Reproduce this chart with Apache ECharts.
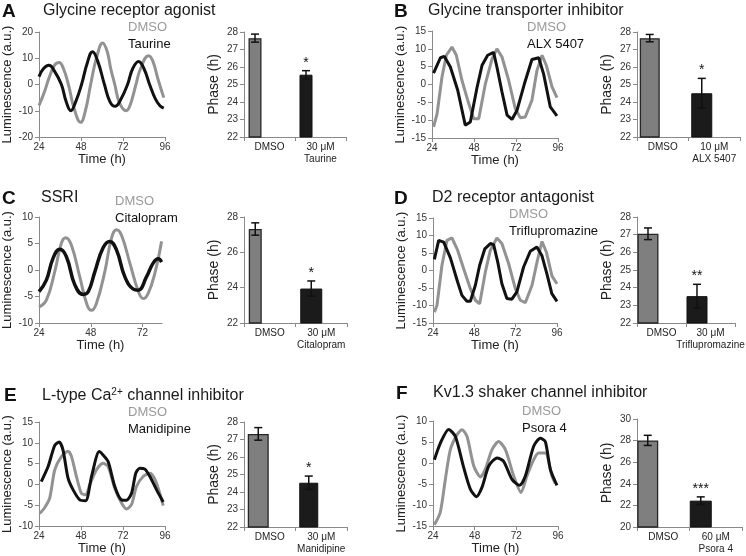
<!DOCTYPE html>
<html><head><meta charset="utf-8">
<script src="https://cdn.jsdelivr.net/npm/echarts@6/dist/echarts.min.js"></script>
<style>html,body{margin:0;padding:0;background:#fff}#c{width:746px;height:556px}</style>
</head><body><div id="c"></div>
<script>
// ---------- DATA ----------
// Panel A: Glycine receptor agonist (time h, luminescence a.u.)
const aDmso = [[24,-8],[27,-3],[30,3],[33,7.5],[35.5,8.4],[38,6],[41,-0.5],[44,-9],[47.8,-14.4],[50.5,-10],[53.5,0],[57,10.5],[60.4,15.8],[63,12.5],[65,6],[67.3,0],[70,-7],[73.8,-10],[76,-8],[79.4,0],[82,6],[86.6,11],[89,9],[92,2],[95.3,-5]];
const aTaurine = [[24,3],[26.5,6],[29.7,7.3],[32.5,5.5],[36.8,0],[39.5,-6.5],[42.2,-10],[45,-6.5],[48.3,0],[51.5,8],[54.6,12.5],[57.5,9],[61.4,0],[64.5,-6.5],[67.5,-8.3],[70.5,-6],[74.6,0],[77.5,6],[80.9,8.8],[84,6],[87.2,0],[90.5,-5.5],[93,-8],[95.3,-9]];
// Panel B: Glycine transporter inhibitor
const bDmso = [[24.9,-11.9],[26.9,-8.2],[29.7,2.1],[32.2,8.2],[35.4,10.5],[37.9,8.2],[41.1,1.2],[44.4,-4.4],[47.8,-9.6],[50.7,-9.6],[54.5,0.2],[58.3,7.2],[61.1,10],[64,7.7],[67.8,1.2],[71.6,-6.8],[74.5,-9.3],[77.3,-9.1],[81.1,-4.4],[84,4],[86.9,8.2],[89.3,5.4],[92.6,-0.7],[95.4,-3.7]];
const bAlx = [[24.9,3.2],[28.8,7.5],[31,7.9],[34.5,4.9],[38.7,-1.6],[43,-11.4],[45.9,-10.5],[49.7,-0.9],[52.6,5.4],[55.8,8.2],[59.2,9],[61.1,4.9],[64,-2.1],[66.9,-8.6],[69.7,-9.8],[72.6,-7.2],[76.8,0.2],[81.1,7],[85,7.5],[87.8,2.9],[91.6,-6.3],[95.4,-8.8]];
// Panel C: SSRI
const cDmso = [[24,-7],[27.4,-5.7],[31.3,-0.3],[34.4,5.1],[36.4,6.1],[39,4.7],[42.9,-1.3],[46.3,-6.6],[48.3,-7.6],[50.6,-6.3],[54.5,-0.3],[57.6,6],[59.9,7.6],[62.2,6.6],[66.1,1.3],[70,-4],[72.3,-5.4],[74.6,-4.4],[77.7,-0.6],[80.8,5.4]];
const cCitalopram = [[24,-4.1],[27.4,-1.9],[30.5,2.2],[33.6,3.9],[36.7,2.5],[40.6,-2.8],[44.4,-4.6],[46.8,-4.1],[49.9,-0.3],[53.7,4.2],[56.8,5.4],[59.9,3.8],[63.8,-1.3],[67.7,-3.6],[70,-3.8],[73.8,-1.3],[76.9,1.3],[79.3,2.1],[80.8,1.5]];
// Panel D: D2 receptor antagonist
const dDmso = [[24.8,-11.9],[26.3,-10],[29.2,1.5],[32.1,8.6],[35,9.3],[38.3,5.8],[41.8,0.5],[45.7,-5.2],[48.6,-8.5],[51.1,-9.5],[54.4,-0.4],[57.3,5.8],[61.1,9.3],[64,7.7],[67.9,2],[71.8,-5.2],[74.7,-8.5],[77.6,-9.2],[81.5,-4.2],[84.4,2.4],[87.3,8.3],[89.8,5.3],[93.1,-1.6],[96,-3.8]];
const dTriflu = [[24.8,3.2],[27.3,8.6],[30.2,8.1],[34.1,3.6],[38.3,-3.3],[40.8,-7.1],[43.7,-8.8],[45.7,-8.8],[48.6,-4.2],[51.1,1.5],[54.1,6.2],[57.3,7.7],[59.2,7.4],[61.6,2.4],[64,-3.8],[66.9,-8],[69.8,-8.2],[72.7,-6.1],[76.6,1],[80.5,5.5],[84.3,6.7],[87.2,4.3],[90.1,-0.9],[93,-6.6],[96,-8.8]];
// Panel E: L-type Ca2+ channel inhibitor
const eDmso = [[24.4,-7],[27.2,-5.6],[30.1,-3.3],[33,3.5],[36.8,6.7],[40.6,8],[42.5,6.8],[45.4,1.9],[48.2,-2.1],[50.7,-2.5],[53,-0.1],[56.8,3.5],[60.6,5.1],[63.5,4.3],[67.3,-0.9],[71.1,-4.4],[74,-5.9],[76.9,-4.8],[79.7,-0.5],[83.5,1.9],[87.4,2.7],[90.8,0.7],[95,-5.1]];
const eManidipine = [[25.3,0.7],[29.2,4.3],[33,9.4],[35.5,10.2],[37.7,8.3],[40.6,1.5],[43.5,-1.3],[47.3,-3.7],[50.7,-3.9],[54,1.9],[58.4,7.9],[60.6,7.1],[63.5,5.5],[67.3,-0.5],[71.1,-3.7],[74,-3.8],[76.9,-2.1],[79.3,2.7],[81.6,3.9],[84.5,3.7],[87.4,1.9],[91.2,-1.3],[95,-4.2]];
// Panel F: Kv1.3 shaker channel inhibitor
const fDmso = [[24.8,-14.7],[28.2,-11.7],[31.1,-3.9],[34,3.2],[37.8,6.7],[40.7,7.9],[43.6,6.3],[47.5,-0.7],[51.3,-3.3],[54.1,-1.5],[58,3.2],[61.8,5.1],[65.7,3.2],[70.5,-3.1],[74.7,-7],[78.1,-3.1],[82,0.8],[84.8,2.4],[88.7,2.4],[92.5,-3.1],[94.4,-4.8]];
const fPsora = [[24.8,0.8],[28.2,4.7],[33,8],[36.9,6.3],[41.7,-1.1],[45.5,-6.2],[49,-8],[52.2,-5.8],[56.1,-0.7],[60.9,1.2],[64.7,0.4],[69.5,-3.9],[73.9,-5.3],[77.2,-3.1],[82,4],[85.8,5.9],[88.7,5.1],[91.6,-1.5],[95.4,-5.3]];

// Phase bar data (mean, error, significance)
const catsA = ['DMSO', '30 μM\nTaurine'];
const phaseA = [27.65, 25.56]; const errA = [0.23, 0.23]; const sigA = '*';
const catsB = ['DMSO', '10 μM\nALX 5407'];
const phaseB = [27.65, 24.5]; const errB = [0.21, 0.85]; const sigB = '*';
const catsC = ['DMSO', '30 μM\nCitalopram'];
const phaseC = [27.32, 23.95]; const errC = [0.35, 0.43]; const sigC = '*';
const catsD = ['DMSO', '30 μM\nTriflupromazine'];
const phaseD = [27.05, 23.52]; const errD = [0.33, 0.67]; const sigD = '**';
const catsE = ['DMSO', '30 μM\nManidipine'];
const phaseE = [27.32, 24.53]; const errE = [0.36, 0.38]; const sigE = '*';
const catsF = ['DMSO', '60 μM\nPsora 4'];
const phaseF = [28.02, 22.44]; const errF = [0.47, 0.35]; const sigF = '***';

// ---------- LAYOUT / STYLE ----------
const FONT = '"Liberation Sans", Arial, Helvetica, sans-serif';
const GRAY = '#929292';
const BLACK = '#111111';
const AX = '#8a8a8a';

const panels = [
  {letter:'A', title:'Glycine receptor agonist', lp:[2,2], tp:[43,3], gp:[128,21], drugName:'Taurine',
   dmso:aDmso, drug:aTaurine, y:[-20,20,10], xMax:96, smooth:0.45,
   lg:{left:39,top:32,width:126,height:105}, bg:{left:244,top:32,width:102,height:105},
   cats:catsA, vals:phaseA, errs:errA, sig:sigA, by:[22,28,1], bw:[13,13], lead:21},
  {letter:'B', title:'Glycine transporter inhibitor', lp:[394,2], tp:[428,3], gp:[527,21], drugName:'ALX 5407',
   dmso:bDmso, drug:bAlx, y:[-15,15,5], xMax:96, smooth:false,
   lg:{left:432,top:31,width:126,height:107}, bg:{left:637,top:32,width:103,height:105},
   cats:catsB, vals:phaseB, errs:errB, sig:sigB, by:[22,28,1], bw:[20,21], lead:23},
  {letter:'C', title:'SSRI', lp:[2,189], tp:[41,190], gp:[115,195], drugName:'Citalopram',
   dmso:cDmso, drug:cCitalopram, y:[-10,10,5], xMax:81, smooth:0.45,
   lg:{left:39,top:217,width:123,height:106}, bg:{left:244,top:217,width:103,height:106},
   cats:catsC, vals:phaseC, errs:errC, sig:sigC, by:[22,28,2], bw:[13,22], lead:21},
  {letter:'D', title:'D2 receptor antagonist', lp:[394,189], tp:[432,190], gp:[509,208], drugName:'Triflupromazine',
   dmso:dDmso, drug:dTriflu, y:[-15,15,5], xMax:96, smooth:false,
   lg:{left:433,top:218,width:124,height:105}, bg:{left:637,top:217,width:105,height:106},
   cats:catsD, vals:phaseD, errs:errD, sig:sigD, by:[22,28,1], bw:[21,21], lead:24},
  {letter:'E', title:'L-type Ca{sup|2+} channel inhibitor', lp:[4,386], tp:[42,387], gp:[128,406], drugName:'Manidipine',
   dmso:eDmso, drug:eManidipine, y:[-10,15,5], xMax:96, smooth:0.25,
   lg:{left:39,top:422,width:126,height:105}, bg:{left:244,top:422,width:103,height:105},
   cats:catsE, vals:phaseE, errs:errE, sig:sigE, by:[22,28,1], bw:[21,19], lead:22},
  {letter:'F', title:'Kv1.3 shaker channel inhibitor', lp:[396,384], tp:[433,385], gp:[522,405], drugName:'Psora 4',
   dmso:fDmso, drug:fPsora, y:[-15,10,5], xMax:96, smooth:0.25,
   lg:{left:433,top:421,width:125,height:106}, bg:{left:637,top:419,width:105,height:108},
   cats:catsF, vals:phaseF, errs:errF, sig:sigF, by:[20,30,2], bw:[21,22], lead:26}
];

const grid = [], xAxis = [], yAxis = [], series = [], title = [];
const axisLine = {show:true, onZero:false, lineStyle:{color:AX, width:1}};
const axisTick = {show:true, length:4, inside:false, lineStyle:{color:AX, width:1}};
const tickLabel = {fontSize:10, color:'#333', fontFamily:FONT, fontWeight:400};
const nameStyle = {fontSize:13, color:'#222', fontFamily:FONT, fontWeight:'normal',
  textBorderWidth:0, textShadowBlur:0};

panels.forEach((p, i) => {
  // titles
  title.push({text:p.letter, left:p.lp[0], top:p.lp[1], padding:0,
    textStyle:{fontSize:19, fontWeight:'bold', color:'#111', fontFamily:FONT}});
  title.push({text:p.title, left:p.tp[0], top:p.tp[1], padding:0,
    textStyle:{fontSize:16, fontWeight:400, color:'#1a1a1a', fontFamily:FONT,
      rich:{sup:{fontSize:10, color:'#1a1a1a', fontFamily:FONT, padding:[0,0,7,0]}}}});
  title.push({text:'DMSO', left:p.gp[0], top:p.gp[1], padding:0,
    textStyle:{fontSize:13, fontWeight:400, color:'#9a9a9a', fontFamily:FONT}});
  title.push({text:p.drugName, left:p.gp[0], top:p.gp[1]+17, padding:0,
    textStyle:{fontSize:13, fontWeight:400, color:'#111', fontFamily:FONT}});

  // line grid
  const lgi = grid.length;
  grid.push(Object.assign({containLabel:false}, p.lg));
  xAxis.push({type:'value', gridIndex:lgi, min:24, max:p.xMax, interval:24,
    axisLine, axisTick,
    axisLabel:Object.assign({margin:5, showMaxLabel: p.xMax % 24 === 0,
      formatter: v => (v % 24 === 0 ? String(v) : '')}, tickLabel),
    splitLine:{show:false}, name:'Time (h)', nameLocation:'middle', nameGap:14,
    nameTextStyle:nameStyle});
  yAxis.push({type:'value', gridIndex:lgi, min:p.y[0], max:p.y[1], interval:p.y[2],
    axisLine, axisTick, axisLabel:Object.assign({margin:6}, tickLabel),
    splitLine:{show:false}, name:'Luminescence (a.u.)', nameLocation:'middle', nameGap:25,
    nameTextStyle:nameStyle});
  series.push({type:'line', xAxisIndex:lgi, yAxisIndex:lgi, data:p.dmso, smooth:p.smooth,
    showSymbol:false, lineStyle:{color:GRAY, width:3}, itemStyle:{color:GRAY}, z:2, silent:true});
  series.push({type:'line', xAxisIndex:lgi, yAxisIndex:lgi, data:p.drug, smooth:p.smooth,
    showSymbol:false, lineStyle:{color:BLACK, width: p.letter === 'C' ? 3.5 : 3}, itemStyle:{color:BLACK}, z:3, silent:true});

  // bar grid
  const bgi = grid.length;
  grid.push(Object.assign({containLabel:false}, p.bg));
  xAxis.push({type:'category', gridIndex:bgi, data:p.cats, boundaryGap:true,
    axisLine:{show:true, lineStyle:{color:AX, width:1}},
    axisTick:{show:true, alignWithLabel:false, interval:0, length:4, lineStyle:{color:AX}},
    axisLabel:Object.assign({margin:4, interval:0, lineHeight:12}, tickLabel, {color:'#222'}),
    splitLine:{show:false}});
  yAxis.push({type:'value', gridIndex:bgi, min:p.by[0], max:p.by[1], interval:p.by[2],
    axisLine:{show:true, lineStyle:{color:AX, width:1}}, axisTick,
    axisLabel:Object.assign({margin:6}, tickLabel),
    splitLine:{show:false}, name:'Phase (h)', nameLocation:'middle', nameGap:23,
    nameTextStyle:Object.assign({}, nameStyle, {fontSize:14})});
  series.push({type:'bar', xAxisIndex:bgi, yAxisIndex:bgi, data:[p.vals[0], '-'],
    barWidth:p.bw[0], barGap:'-100%', silent:true,
    itemStyle:{color:'#7f7f7f', borderColor:'#262626', borderWidth:1.3}});
  series.push({type:'bar', xAxisIndex:bgi, yAxisIndex:bgi, data:['-', p.vals[1]],
    barWidth:p.bw[1], barGap:'-100%', silent:true,
    itemStyle:{color:'#1b1b1b', borderColor:'#111', borderWidth:1}});
  // layout helper (empty) so both bars start at the same left offset from category centre
  series.push({type:'bar', xAxisIndex:bgi, yAxisIndex:bgi, data:['-', '-'],
    barWidth:p.lead*2, barGap:'-100%', silent:true});
  // error bars + significance
  const bw = p.bw, lead = p.lead, sig = p.sig;
  series.push({type:'custom', xAxisIndex:bgi, yAxisIndex:bgi, silent:true, z:5,
    data:p.vals.map((v, k) => [k, v, p.errs[k]]),
    renderItem:(params, api) => {
      const k = api.value(0), m = api.value(1), e = api.value(2);
      const t = api.coord([k, m + e]);
      const b = api.coord([k, m - e]);
      const cx = t[0] - lead + bw[k] / 2;
      const hw = 4;
      const st = {stroke:'#111', lineWidth:1.5};
      const ch = [
        {type:'line', shape:{x1:cx, y1:t[1], x2:cx, y2:b[1]}, style:st},
        {type:'line', shape:{x1:cx-hw, y1:t[1], x2:cx+hw, y2:t[1]}, style:st},
        {type:'line', shape:{x1:cx-hw, y1:b[1], x2:cx+hw, y2:b[1]}, style:st}
      ];
      if (k === 1) {
        ch.push({type:'text', style:{text:sig, x:cx, y:t[1]-1, align:'center', verticalAlign:'bottom',
          fontSize:14, fontFamily:FONT, fill:'#111'}});
      }
      return {type:'group', children:ch};
    }});
});

const chart = echarts.init(document.getElementById('c'), null, {renderer:'canvas'});
chart.setOption({animation:false, backgroundColor:'#fff', title, grid, xAxis, yAxis, series});
</script>
</body></html>
